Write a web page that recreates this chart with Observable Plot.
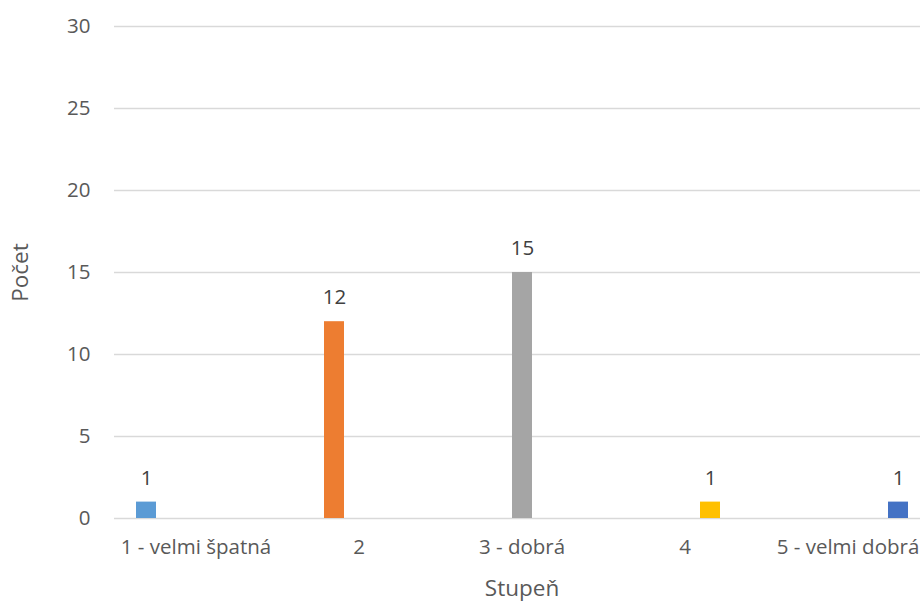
<!DOCTYPE html>
<html><head><meta charset="utf-8">
<script src="https://cdn.jsdelivr.net/npm/d3@7"></script>
<script src="https://cdn.jsdelivr.net/npm/@observablehq/plot@0.6"></script>
<style>body{margin:0;overflow:hidden;background:#fff}</style>
</head><body><div id="chart"></div>
<script>
// Rating distribution: number of responses per grade
const categories = ["1 - velmi špatná", "2", "3 - dobrá", "4", "5 - velmi dobrá"];
const counts = [1, 12, 15, 1, 1];
const colors = ["#5B9BD5", "#ED7D31", "#A5A5A5", "#FFC000", "#4472C4"];
const yTicks = [0, 5, 10, 15, 20, 25, 30];

const data = categories.map((c, i) => ({category: c, value: counts[i], color: colors[i]}));

const tickFont = 20.5;
const titleFont = 22.5;

const chart = Plot.plot({
  width: 930,
  height: 601,
  marginTop: 26,
  marginBottom: 83,
  marginLeft: 113,
  marginRight: 0,
  style: {
    fontFamily: "'Segoe UI','Open Sans',sans-serif",
    fontSize: tickFont + "px",
    color: "#595959",
    background: "#fff",
    maxWidth: "none",
    overflow: "visible"
  },
  fx: {domain: categories, padding: 0, label: "Stupeň"},
  // each grade is its own series, clustered within the grade's band
  x: {type: "band", domain: categories, paddingInner: 0.2, paddingOuter: 0.83, axis: null},
  y: {domain: [0, 30], ticks: yTicks},
  marks: [
    Plot.ruleY(yTicks, {stroke: "#d9d9d9", strokeWidth: 1.3}),
    Plot.barY(data, {fx: "category", x: "category", y: "value", fill: "color"}),
    Plot.text(data, {fx: "category", x: "category", y: "value", text: d => String(d.value), dy: -24, fill: "#404040", fontSize: tickFont}),
    Plot.axisY(yTicks, {tickSize: 0, tickPadding: 24, fontSize: tickFont, label: null}),
    Plot.axisY({label: "Počet", labelAnchor: "center", labelOffset: 102, labelArrow: "none", ticks: [], tickSize: 0, fontSize: titleFont}),
    Plot.axisFx({anchor: "bottom", tickSize: 0, tickPadding: 21, fontSize: tickFont, label: null}),
    Plot.axisFx({anchor: "bottom", ticks: [], tickSize: 0, label: "Stupeň", labelAnchor: "center", labelOffset: 77, labelArrow: "none", fontSize: titleFont})
  ]
});
document.getElementById("chart").appendChild(chart);
</script>
</body></html>
